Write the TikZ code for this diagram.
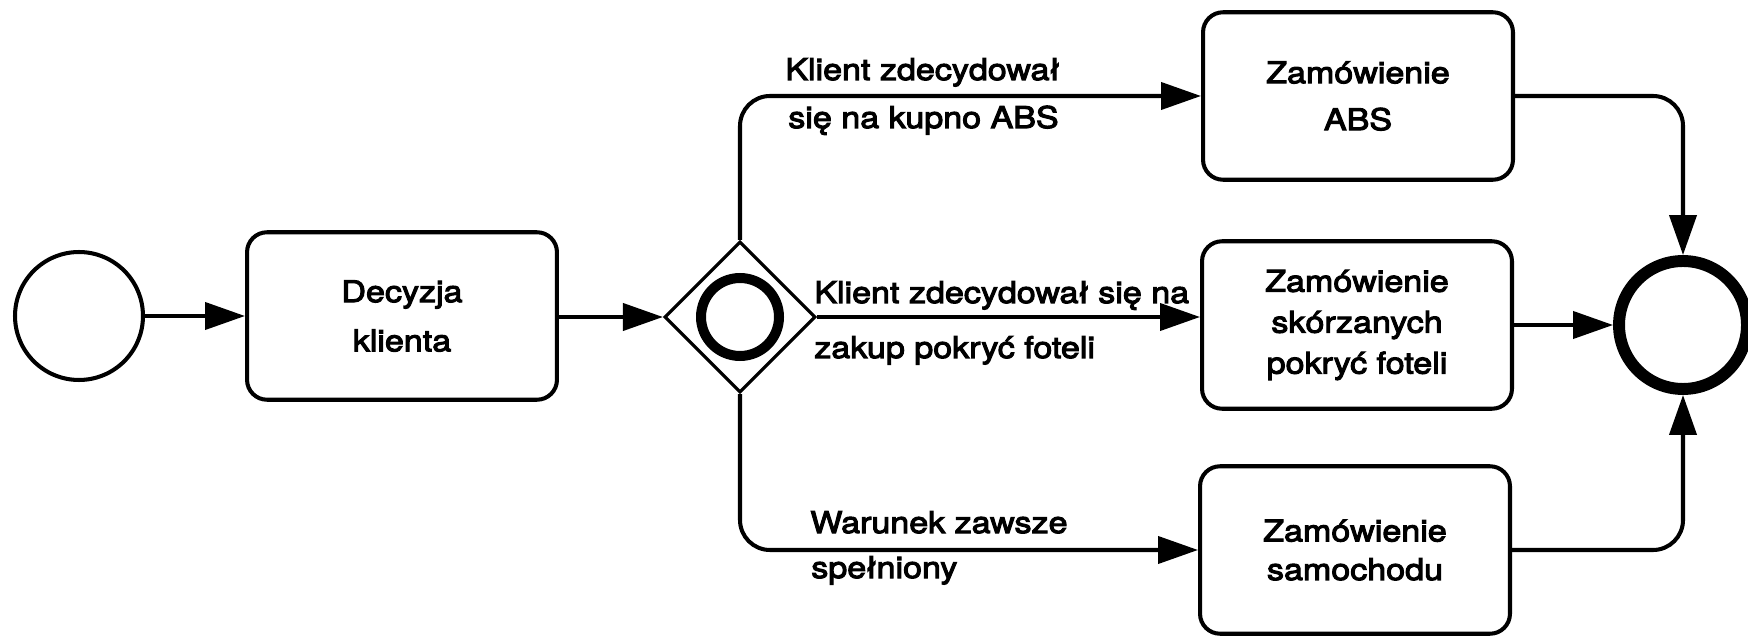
\documentclass[tikz,border=0pt]{standalone}
\usepackage{fontspec}
\setmainfont{TeX Gyre Heros}[FakeStretch=1.14,FakeBold=3.5]
\usetikzlibrary{shapes.geometric,arrows.meta}
\begin{document}
\begin{tikzpicture}[x=0.02cm,y=-0.02cm,
  lw/.style={line width=2.3pt},
  task/.style={draw, lw, rectangle, rounded corners=0.4cm, minimum width=6.2cm, minimum height=3.35cm, inner sep=0pt, align=center},
  flow/.style={lw, -{Triangle[length=0.8cm,width=0.54cm]}, rounded corners=0.6cm},
  lbl/.style={anchor=base west, inner sep=0pt, font=\fontsize{17}{20}\selectfont}]
\useasboundingbox (0,0) rectangle (1748,638);

\node[draw, lw, circle, minimum size=2.56cm, inner sep=0pt] (start) at (79,316) {};
\node[task, font=\fontsize{17}{28}\selectfont] (dec) at (402,316) {Decyzja\\klienta};
\node[draw, line width=1.8pt, diamond, aspect=1, minimum width=3.02cm, minimum height=3.02cm, inner sep=0pt] (gw) at (740,317) {};
\node[draw, circle, line width=5.7pt, minimum size=1.56cm, inner sep=0pt] (gwm) at (gw.center) {};
\node[task, font=\fontsize{17}{26.7}\selectfont] (abs) at (1358,96) {Zamówienie\\ABS};
\node[task, font=\fontsize{17}{23.3}\selectfont] (skor) at (1357,325) {Zamówienie\\skórzanych\\pokryć foteli};
\node[task, font=\fontsize{17}{22}\selectfont] (sam) at (1355,550) {Zamówienie\\samochodu};
\node[draw, circle, line width=6.8pt, minimum size=2.56cm, inner sep=0pt] (end) at (1683,325) {};

\draw[flow] (start) -- (start -| dec.west);
\draw[flow] (dec.east |- gw.west) -- (gw.west);
\draw[flow] (gw.north) |- (abs.west);
\draw[flow] (gw.east) -- (gw.east -| skor.west);
\draw[flow] (gw.south) |- (sam.west);
\draw[flow] (abs.east) -| (end.north);
\draw[flow] (skor.east) -- (end.west);
\draw[flow] (sam.east) -| (end.south);

\node[lbl] (l1a) at (785,80) {Klient zdecydował};
\node[lbl] (l1b) at (788,128) {się na kupno ABS};
\node[lbl] (l2a) at (814,303) {Klient zdecydował się na};
\node[lbl] (l2b) at (814,358) {zakup pokryć foteli};
\node[lbl] (l3a) at (810,533) {Warunek zawsze};
\node[lbl] (l3b) at (811,578) {spełniony};
\end{tikzpicture}
\end{document}
